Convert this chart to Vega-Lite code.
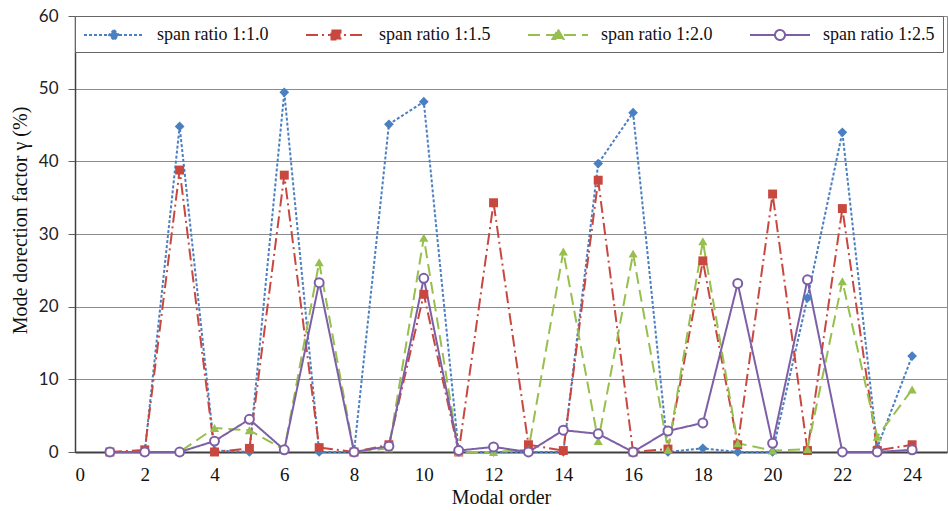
{
  "$schema": "https://vega.github.io/schema/vega-lite/v6.json",
  "width": 872,
  "height": 436,
  "autosize": {"type": "none"},
  "padding": {"left": 75, "top": 16, "right": 1, "bottom": 59},
  "background": "white",
  "config": {"view": {"stroke": "#8a8a8a", "strokeWidth": 1}},
  "datasets": {
    "modes": [
      {"order": 1, "series": "span ratio 1:1.0", "value": 0},
      {"order": 2, "series": "span ratio 1:1.0", "value": 0},
      {"order": 3, "series": "span ratio 1:1.0", "value": 44.8},
      {"order": 4, "series": "span ratio 1:1.0", "value": 0.2},
      {"order": 5, "series": "span ratio 1:1.0", "value": 0},
      {"order": 6, "series": "span ratio 1:1.0", "value": 49.5},
      {"order": 7, "series": "span ratio 1:1.0", "value": 0},
      {"order": 8, "series": "span ratio 1:1.0", "value": 0},
      {"order": 9, "series": "span ratio 1:1.0", "value": 45.1},
      {"order": 10, "series": "span ratio 1:1.0", "value": 48.2},
      {"order": 11, "series": "span ratio 1:1.0", "value": 0},
      {"order": 12, "series": "span ratio 1:1.0", "value": 0},
      {"order": 13, "series": "span ratio 1:1.0", "value": 0},
      {"order": 14, "series": "span ratio 1:1.0", "value": 0},
      {"order": 15, "series": "span ratio 1:1.0", "value": 39.7},
      {"order": 16, "series": "span ratio 1:1.0", "value": 46.7},
      {"order": 17, "series": "span ratio 1:1.0", "value": 0},
      {"order": 18, "series": "span ratio 1:1.0", "value": 0.5},
      {"order": 19, "series": "span ratio 1:1.0", "value": 0},
      {"order": 20, "series": "span ratio 1:1.0", "value": 0},
      {"order": 21, "series": "span ratio 1:1.0", "value": 21.2},
      {"order": 22, "series": "span ratio 1:1.0", "value": 44.0},
      {"order": 23, "series": "span ratio 1:1.0", "value": 0.6},
      {"order": 24, "series": "span ratio 1:1.0", "value": 13.2},
      {"order": 1, "series": "span ratio 1:1.5", "value": 0},
      {"order": 2, "series": "span ratio 1:1.5", "value": 0.3},
      {"order": 3, "series": "span ratio 1:1.5", "value": 38.8},
      {"order": 4, "series": "span ratio 1:1.5", "value": 0},
      {"order": 5, "series": "span ratio 1:1.5", "value": 0.5},
      {"order": 6, "series": "span ratio 1:1.5", "value": 38.1},
      {"order": 7, "series": "span ratio 1:1.5", "value": 0.6},
      {"order": 8, "series": "span ratio 1:1.5", "value": 0},
      {"order": 9, "series": "span ratio 1:1.5", "value": 1.0},
      {"order": 10, "series": "span ratio 1:1.5", "value": 21.7},
      {"order": 11, "series": "span ratio 1:1.5", "value": 0},
      {"order": 12, "series": "span ratio 1:1.5", "value": 34.3},
      {"order": 13, "series": "span ratio 1:1.5", "value": 1.0},
      {"order": 14, "series": "span ratio 1:1.5", "value": 0.2},
      {"order": 15, "series": "span ratio 1:1.5", "value": 37.4},
      {"order": 16, "series": "span ratio 1:1.5", "value": 0},
      {"order": 17, "series": "span ratio 1:1.5", "value": 0.4},
      {"order": 18, "series": "span ratio 1:1.5", "value": 26.3},
      {"order": 19, "series": "span ratio 1:1.5", "value": 1.0},
      {"order": 20, "series": "span ratio 1:1.5", "value": 35.5},
      {"order": 21, "series": "span ratio 1:1.5", "value": 0.2},
      {"order": 22, "series": "span ratio 1:1.5", "value": 33.5},
      {"order": 23, "series": "span ratio 1:1.5", "value": 0.2},
      {"order": 24, "series": "span ratio 1:1.5", "value": 1.0},
      {"order": 1, "series": "span ratio 1:2.0", "value": 0},
      {"order": 2, "series": "span ratio 1:2.0", "value": 0},
      {"order": 3, "series": "span ratio 1:2.0", "value": 0},
      {"order": 4, "series": "span ratio 1:2.0", "value": 3.3},
      {"order": 5, "series": "span ratio 1:2.0", "value": 3.0},
      {"order": 6, "series": "span ratio 1:2.0", "value": 0.3},
      {"order": 7, "series": "span ratio 1:2.0", "value": 26.1},
      {"order": 8, "series": "span ratio 1:2.0", "value": 0},
      {"order": 9, "series": "span ratio 1:2.0", "value": 0.5},
      {"order": 10, "series": "span ratio 1:2.0", "value": 29.5},
      {"order": 11, "series": "span ratio 1:2.0", "value": 0},
      {"order": 12, "series": "span ratio 1:2.0", "value": 0},
      {"order": 13, "series": "span ratio 1:2.0", "value": 0.3},
      {"order": 14, "series": "span ratio 1:2.0", "value": 27.6},
      {"order": 15, "series": "span ratio 1:2.0", "value": 1.5},
      {"order": 16, "series": "span ratio 1:2.0", "value": 27.3},
      {"order": 17, "series": "span ratio 1:2.0", "value": 0.3},
      {"order": 18, "series": "span ratio 1:2.0", "value": 29.0},
      {"order": 19, "series": "span ratio 1:2.0", "value": 1.2},
      {"order": 20, "series": "span ratio 1:2.0", "value": 0.2},
      {"order": 21, "series": "span ratio 1:2.0", "value": 0.4},
      {"order": 22, "series": "span ratio 1:2.0", "value": 23.5},
      {"order": 23, "series": "span ratio 1:2.0", "value": 2.1},
      {"order": 24, "series": "span ratio 1:2.0", "value": 8.6},
      {"order": 1, "series": "span ratio 1:2.5", "value": 0},
      {"order": 2, "series": "span ratio 1:2.5", "value": 0},
      {"order": 3, "series": "span ratio 1:2.5", "value": 0},
      {"order": 4, "series": "span ratio 1:2.5", "value": 1.5},
      {"order": 5, "series": "span ratio 1:2.5", "value": 4.5},
      {"order": 6, "series": "span ratio 1:2.5", "value": 0.3},
      {"order": 7, "series": "span ratio 1:2.5", "value": 23.3},
      {"order": 8, "series": "span ratio 1:2.5", "value": 0},
      {"order": 9, "series": "span ratio 1:2.5", "value": 0.8},
      {"order": 10, "series": "span ratio 1:2.5", "value": 23.9},
      {"order": 11, "series": "span ratio 1:2.5", "value": 0.2},
      {"order": 12, "series": "span ratio 1:2.5", "value": 0.7},
      {"order": 13, "series": "span ratio 1:2.5", "value": 0},
      {"order": 14, "series": "span ratio 1:2.5", "value": 3.0},
      {"order": 15, "series": "span ratio 1:2.5", "value": 2.5},
      {"order": 16, "series": "span ratio 1:2.5", "value": 0},
      {"order": 17, "series": "span ratio 1:2.5", "value": 2.9},
      {"order": 18, "series": "span ratio 1:2.5", "value": 4.0},
      {"order": 19, "series": "span ratio 1:2.5", "value": 23.2},
      {"order": 20, "series": "span ratio 1:2.5", "value": 1.2},
      {"order": 21, "series": "span ratio 1:2.5", "value": 23.7},
      {"order": 22, "series": "span ratio 1:2.5", "value": 0},
      {"order": 23, "series": "span ratio 1:2.5", "value": 0},
      {"order": 24, "series": "span ratio 1:2.5", "value": 0.3}
    ]
  },
  "data": {"name": "modes"},
  "encoding": {
    "x": {
      "field": "order",
      "type": "quantitative",
      "scale": {"domain": [0, 25], "nice": false},
      "axis": {
        "values": [0, 2, 4, 6, 8, 10, 12, 14, 16, 18, 20, 22, 24],
        "grid": false,
        "ticks": false,
        "labelPadding": 13,
        "labelFont": "Liberation Serif",
        "labelFontSize": 19,
        "labelColor": "#111",
        "domainColor": "#404040",
        "domainWidth": 2,
        "title": "Modal order",
        "titleFont": "Liberation Serif",
        "titleFontSize": 20,
        "titleFontWeight": "normal",
        "titleColor": "#111",
        "titlePadding": 3,
        "titleX": 426
      }
    },
    "y": {
      "field": "value",
      "type": "quantitative",
      "scale": {"domain": [0, 60], "nice": false},
      "axis": {
        "values": [0, 10, 20, 30, 40, 50, 60],
        "grid": true,
        "gridColor": "#8c8c8c",
        "gridWidth": 1,
        "tickSize": 7,
        "tickColor": "#606060",
        "labelPadding": 10,
        "labelFont": "Lato",
        "labelFontSize": 17,
        "labelColor": "#222",
        "domainColor": "#404040",
        "domainWidth": 1.5,
        "title": "Mode dorection factor γ (%)",
        "titleFont": "Liberation Serif",
        "titleFontSize": 20,
        "titleFontWeight": "normal",
        "titleColor": "#111",
        "titlePadding": 8,
        "titleY": 204
      }
    }
  },
  "layer": [
    {
      "mark": {"type": "line", "strokeWidth": 2},
      "encoding": {
        "color": {
          "field": "series",
          "type": "nominal",
          "scale": {
            "domain": ["span ratio 1:1.0", "span ratio 1:1.5", "span ratio 1:2.0", "span ratio 1:2.5"],
            "range": ["#4a7fc1", "#c8473f", "#96bf4d", "#7d5fa6"]
          },
          "legend": {
            "title": null,
            "orient": "none",
            "legendX": 0,
            "legendY": 0,
            "direction": "horizontal",
            "columns": 4,
            "gridAlign": "all",
            "fillColor": "white",
            "strokeColor": "#666",
            "padding": 8,
            "symbolSize": 400,
            "symbolOffset": 0,
            "symbolStrokeWidth": 2,
            "labelFont": "Liberation Serif",
            "labelFontSize": 18,
            "labelColor": "#111",
            "labelOffset": 52,
            "labelLimit": 300,
            "columnPadding": 33,
            "encode": {
              "symbols": {
                "update": {
                  "shape": {"signal": "datum.value == 'span ratio 1:1.0' ? 'M-1,0H5M2,-0.5L2.5,0L2,0.5L1.5,0Z' : datum.value == 'span ratio 1:1.5' ? 'M-1,0H5M1.55,-0.45H2.45V0.45H1.55Z' : datum.value == 'span ratio 1:2.0' ? 'M-1,0H5M2,-0.55L2.55,0.4H1.45Z' : 'M-1,0H1.5M2.5,0H5M2.5,0A0.5,0.5 0 1,1 1.5,0A0.5,0.5 0 1,1 2.5,0Z'"},
                  "strokeDash": {"signal": "datum.value == 'span ratio 1:1.0' ? [3,2] : datum.value == 'span ratio 1:1.5' ? [10,4,2,4] : datum.value == 'span ratio 1:2.0' ? [12,6] : [1,0]"},
                  "fill": {"signal": "datum.value == 'span ratio 1:2.5' ? 'white' : scale('color', datum.value)"},
                  "stroke": {"signal": "scale('color', datum.value)"},
                  "strokeWidth": {"value": 2},
                  "opacity": {"value": 1}
                }
              }
            }
          }
        },
        "strokeDash": {
          "field": "series",
          "type": "nominal",
          "scale": {
            "domain": ["span ratio 1:1.0", "span ratio 1:1.5", "span ratio 1:2.0", "span ratio 1:2.5"],
            "range": [[3, 2], [12, 4, 2, 4], [12, 6], [1, 0]]
          },
          "legend": null
        },
        "order": {"field": "order"}
      }
    },
    {
      "transform": [{"filter": "datum.series == 'span ratio 1:1.0'"}],
      "mark": {"type": "point", "shape": "diamond", "filled": true, "color": "#4a7fc1", "opacity": 1, "size": 95}
    },
    {
      "transform": [{"filter": "datum.series == 'span ratio 1:1.5'"}],
      "mark": {"type": "point", "shape": "square", "filled": true, "color": "#c8473f", "opacity": 1, "size": 80}
    },
    {
      "transform": [{"filter": "datum.series == 'span ratio 1:2.0'"}],
      "mark": {"type": "point", "shape": "triangle-up", "filled": true, "color": "#96bf4d", "opacity": 1, "size": 85}
    },
    {
      "transform": [{"filter": "datum.series == 'span ratio 1:2.5'"}],
      "mark": {"type": "point", "shape": "circle", "fill": "white", "stroke": "#7d5fa6", "strokeWidth": 2, "opacity": 1, "size": 80}
    }
  ]
}
